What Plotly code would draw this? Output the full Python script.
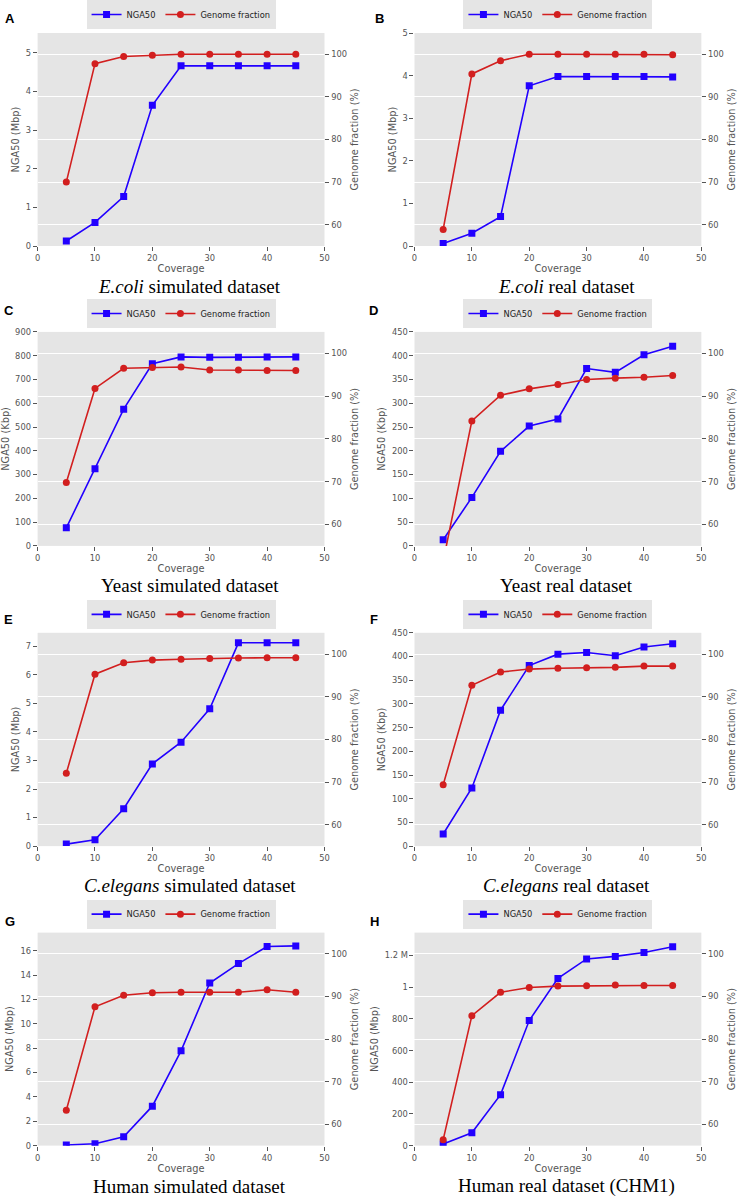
import plotly.graph_objects as go

# ---------------- data ----------------
coverage = [5, 10, 15, 20, 25, 30, 35, 40, 45]

nga_A = [0.13, 0.61, 1.28, 3.64, 4.66, 4.66, 4.66, 4.66, 4.66]
gf_A = [70.0, 97.8, 99.5, 99.8, 100.0, 100.0, 100.0, 100.0, 100.0]

nga_B = [0.06, 0.30, 0.69, 3.76, 3.98, 3.98, 3.98, 3.98, 3.97]
gf_B = [58.9, 95.4, 98.5, 100.0, 100.0, 100.0, 100.0, 100.0, 99.9]

nga_C = [76, 325, 575, 766, 795, 793, 793, 795, 795]
gf_C = [69.8, 91.8, 96.5, 96.7, 96.8, 96.1, 96.1, 96.0, 96.0]

nga_D = [13, 102, 199, 252, 267, 373, 365, 402, 420]
gf_D = [51.4, 84.2, 90.2, 91.7, 92.7, 93.9, 94.2, 94.4, 94.8]

nga_E = [0.07, 0.22, 1.31, 2.88, 3.64, 4.81, 7.12, 7.12, 7.12]
gf_E = [72.1, 95.3, 98.0, 98.6, 98.8, 99.0, 99.1, 99.15, 99.15]

nga_F = [25.6, 122.6, 286.7, 380.8, 405, 408.6, 401.7, 420, 427]
gf_F = [69.4, 92.7, 95.8, 96.5, 96.7, 96.8, 96.9, 97.2, 97.2]

nga_G = [0.05, 0.16, 0.73, 3.24, 7.78, 13.35, 14.95, 16.35, 16.4]
gf_G = [63.3, 87.6, 90.3, 90.9, 91.0, 91.0, 91.0, 91.6, 91.0]

nga_H = [10, 81, 322, 790, 1056, 1179, 1195, 1220, 1256]  # in Kbp
gf_H = [56.4, 85.5, 91.0, 92.1, 92.45, 92.5, 92.7, 92.6, 92.6]

panel_letters = ["A", "B", "C", "D", "E", "F", "G", "H"]
captions = [
    "<i>E.coli</i> simulated dataset",
    "<i>E.coli</i> real dataset",
    "Yeast simulated dataset",
    "Yeast real dataset",
    "<i>C.elegans</i> simulated dataset",
    "<i>C.elegans</i> real dataset",
    "Human simulated dataset",
    "Human real dataset (CHM1)",
]
left_titles = ["NGA50 (Mbp)", "NGA50 (Mbp)", "NGA50 (Kbp)", "NGA50 (Kbp)",
               "NGA50 (Mbp)", "NGA50 (Kbp)", "NGA50 (Mbp)", "NGA50 (Mbp)"]
left_ranges = [[0, 5.51], [0, 5.0], [0, 900], [0, 450],
               [0, 7.47], [0, 450], [0, 17.49], [0, 1345]]
left_dticks = [1, 1, 100, 50, 1, 50, 2, None]
H_tickvals = [0, 200, 400, 600, 800, 1000, 1200]
H_ticktext = ["0", "200", "400", "600", "800", "1", "1.2 M"]

gf_ticks = [60, 70, 80, 90, 100]
gf_range = [55, 105]
x_ticks = [0, 10, 20, 30, 40, 50]

nga_series = [nga_A, nga_B, nga_C, nga_D, nga_E, nga_F, nga_G, nga_H]
gf_series = [gf_A, gf_B, gf_C, gf_D, gf_E, gf_F, gf_G, gf_H]

# ---------------- style / layout ----------------
W, H = 739, 1200
BLUE = "#2200ff"
RED = "#d21f1f"
GRAY = "#555555"
BG = "#e5e5e5"
SANS = "DejaVu Sans"
SERIF = "Liberation Serif"

col_px = [(35, 325), (416, 706)]
row_px = [(23.3, 239), (326, 542.7), (630.7, 846.7), (934.3, 1150)]
caption_y = [280, 583, 887, 1191]
caption_x = [189, 570]
letter_pos = [(7, 9), (381, 9), (6, 304), (375, 304), (6, 617), (375, 617), (7, 923), (376, 923)]


def py(p):
    return 1 - p / H


def px(p):
    return p / W


fig = go.Figure()
layout = dict(
    width=W, height=H, margin=dict(l=0, r=0, t=0, b=0),
    paper_bgcolor="white", plot_bgcolor=BG, showlegend=True,
    font=dict(family=SANS, color=GRAY, size=8.3),
)
annotations = []

for i in range(8):
    n = i + 1
    r, c = divmod(i, 2)
    x0, x1 = col_px[c]
    y0, y1 = row_px[r]
    sx = "" if n == 1 else str(n)
    xname, yname, y2name = "x" + sx, "y" + sx, "y" + str(n + 8)
    leg = "legend" if n == 1 else "legend" + str(n)

    fig.add_trace(go.Scatter(
        x=coverage, y=nga_series[i], xaxis=xname, yaxis=yname, name="NGA50",
        mode="lines+markers", line=dict(color=BLUE, width=1.6),
        marker=dict(symbol="square", size=7, color=BLUE), legend=leg))
    fig.add_trace(go.Scatter(
        x=coverage, y=gf_series[i], xaxis=xname, yaxis=y2name, name="Genome fraction",
        mode="lines+markers", line=dict(color=RED, width=1.6),
        marker=dict(symbol="circle", size=7, color=RED), legend=leg))

    layout["xaxis" + sx] = dict(
        domain=[px(x0), px(x1)], anchor=yname, range=[0, 50], tickvals=x_ticks,
        showgrid=False, zeroline=False, ticks="outside", ticklen=4, tickcolor=GRAY,
        tickfont=dict(size=8.3, color=GRAY),
        title=dict(text="Coverage", font=dict(size=9.8, color=GRAY), standoff=3),
    )
    ya = dict(
        domain=[py(y1), py(y0)], anchor=xname, range=left_ranges[i],
        showgrid=False, zeroline=False, ticks="outside", ticklen=4, tickcolor=GRAY,
        tickfont=dict(size=8.3, color=GRAY),
        title=dict(text=left_titles[i], font=dict(size=9.8, color=GRAY), standoff=4),
    )
    if left_dticks[i] is not None:
        ya.update(tick0=0, dtick=left_dticks[i])
    else:
        ya.update(tickvals=H_tickvals, ticktext=H_ticktext)
    layout["yaxis" + sx] = ya
    layout["yaxis" + str(n + 8)] = dict(
        overlaying=yname, anchor=xname, side="right", range=gf_range,
        tickvals=gf_ticks, showgrid=True, gridcolor="white", gridwidth=1,
        zeroline=False, ticks="outside", ticklen=4, tickcolor=GRAY,
        tickfont=dict(size=8.3, color=GRAY),
        title=dict(text="Genome fraction (%)", font=dict(size=9.8, color=GRAY), standoff=5),
    )
    layout[leg] = dict(
        orientation="h", x=px((x0 + x1) / 2), xanchor="center",
        y=py(y0 - 4), yanchor="bottom", bgcolor=BG, borderwidth=0,
        font=dict(size=8.3, color="#222222"), itemwidth=30,
        tracegroupgap=0,
    )
    annotations.append(dict(
        text=captions[i], xref="paper", yref="paper",
        x=px(caption_x[c]), y=py(caption_y[r]), xanchor="center", yanchor="middle",
        showarrow=False, font=dict(family=SERIF, size=19, color="black")))
    lx, ly = letter_pos[i]
    annotations.append(dict(
        text="<b>" + panel_letters[i] + "</b>", xref="paper", yref="paper",
        x=px(lx), y=py(ly), xanchor="center", yanchor="middle",
        showarrow=False, font=dict(family="Liberation Sans", size=13, color="black")))

layout["annotations"] = annotations
fig.update_layout(**layout)
fig.write_html(
    "out.html",
    config={"displayModeBar": False},
    post_script="document.body.style.margin='0px';document.body.style.padding='0px';",
)
